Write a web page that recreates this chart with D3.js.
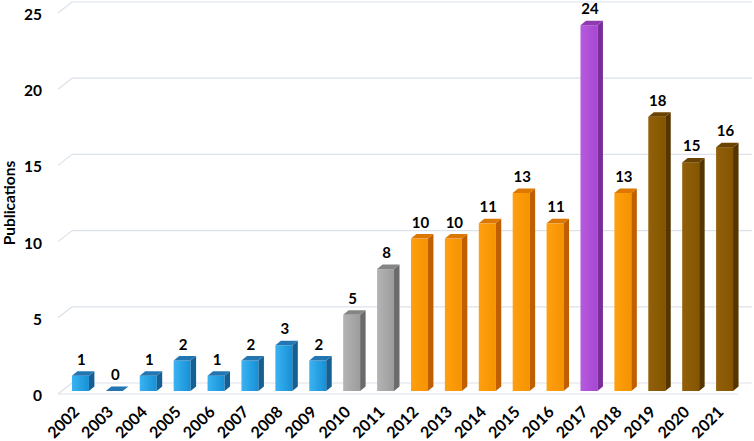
<!DOCTYPE html>
<html>
<head>
<meta charset="utf-8">
<script src="https://cdn.jsdelivr.net/npm/d3@7"></script>
<style>
  body { margin: 0; background: #fff; }
  text { font-family: Lato, "Open Sans", sans-serif; font-weight: 700; fill: #000; }
</style>
</head>
<body>
<div id="chart"></div>
<script>
const years = ["2002","2003","2004","2005","2006","2007","2008","2009","2010","2011",
               "2012","2013","2014","2015","2016","2017","2018","2019","2020","2021"]
const publications = [1,0,1,2,1,2,3,2,5,8,10,10,11,13,11,24,13,18,15,16]
const groups = ["blue","blue","blue","blue","blue","blue","blue","blue","gray","gray",
                "orange","orange","orange","orange","orange","purple","orange","brown","brown","brown"]
const yTicks = [0,5,10,15,20,25]

// front (left/right of gradient), side, top
const palette = {
    blue:   { front: ["#3bb3f2", "#1690d6"], side: "#145f94", top: "#2277b3" },
    gray:   { front: ["#b4b4b4", "#9c9c9c"], side: "#6b6b6b", top: "#858585" },
    orange: { front: ["#ffa010", "#f59300"], side: "#c05f00", top: "#dc7700" },
    purple: { front: ["#b65ade", "#a648d0"], side: "#7a2c99", top: "#8e3bb0" },
    brown:  { front: ["#93600a", "#845500"], side: "#553400", top: "#6b4300" }
}

const width = 754, height = 441
const base = 391
const dx = 5.5, dy = 4.5          // bar depth
const floorBack = 8, floorFront = 3, floorLeft = 58, plotLeft = 72

const svg = d3.select("#chart").append("svg")
    .attr("width", width)
    .attr("height", height)

const x = d3.scaleBand().domain(years).range([55, 750]).paddingInner(0.5).paddingOuter(0.5)
const y = d3.scaleLinear().domain([0, 25]).range([base, 10])
const bw = x.bandwidth()

const defs = svg.append("defs")
Object.keys(palette).forEach(k => {
    const g = defs.append("linearGradient").attr("id", "grad-" + k)
        .attr("x1", 0).attr("x2", 1).attr("y1", 0).attr("y2", 0)
    g.append("stop").attr("offset", 0).attr("stop-color", palette[k].front[0])
    g.append("stop").attr("offset", 1).attr("stop-color", palette[k].front[1])
})

// grid lines (back wall + little diagonal on the left)
const grid = svg.append("g").attr("stroke", "#dbe2ea").attr("stroke-width", 1.2).attr("fill", "none")
yTicks.forEach(v => {
    grid.append("line")
        .attr("x1", floorLeft).attr("y1", y(v) + floorFront)
        .attr("x2", plotLeft).attr("y2", y(v) - floorBack)
    grid.append("line")
        .attr("x1", plotLeft).attr("y1", y(v) - floorBack)
        .attr("x2", 752).attr("y2", y(v) - floorBack)
})
// front edge of the floor
grid.append("line")
    .attr("x1", floorLeft).attr("y1", y(0) + floorFront)
    .attr("x2", 738).attr("y2", y(0) + floorFront)

// y tick labels
svg.append("g").selectAll("text")
    .data(yTicks).enter().append("text")
    .attr("x", 42)
    .attr("y", d => y(d) + 4)
    .attr("text-anchor", "end")
    .attr("dominant-baseline", "central")
    .attr("font-size", 15.5)
    .text(d => d)

svg.append("text")
    .attr("transform", "translate(15,203) rotate(-90)")
    .attr("text-anchor", "middle")
    .attr("font-size", 15.5)
    .text("Publications")

const data = years.map((yr, i) => ({ year: yr, value: publications[i], group: groups[i] }))

const bars = svg.append("g").selectAll("g")
    .data(data).enter().append("g")

bars.append("rect")
    .attr("x", d => x(d.year))
    .attr("y", d => y(d.value))
    .attr("width", bw)
    .attr("height", d => base - y(d.value))
    .attr("fill", d => "url(#grad-" + d.group + ")")

bars.append("path")
    .attr("fill", d => palette[d.group].side)
    .attr("d", d => {
        const x0 = x(d.year) + bw, yt = y(d.value)
        return `M${x0},${yt}L${x0 + dx},${yt - dy}L${x0 + dx},${base - dy}L${x0},${base}Z`
    })

bars.append("path")
    .attr("fill", d => palette[d.group].top)
    .attr("d", d => {
        const x0 = x(d.year), yt = y(d.value)
        return `M${x0},${yt}L${x0 + dx},${yt - dy}L${x0 + bw + dx},${yt - dy}L${x0 + bw},${yt}Z`
    })

// value labels
bars.append("text")
    .attr("x", d => x(d.year) + bw / 2 + 1)
    .attr("y", d => y(d.value) - 11)
    .attr("text-anchor", "middle")
    .attr("font-size", 15)
    .text(d => d.value)

// x labels
svg.append("g").selectAll("text")
    .data(years).enter().append("text")
    .attr("transform", d => "translate(" + (x(d) + bw / 2) + ",413) rotate(-45)")
    .attr("text-anchor", "end")
    .attr("font-size", 16)
    .text(d => d)
</script>
</body>
</html>
